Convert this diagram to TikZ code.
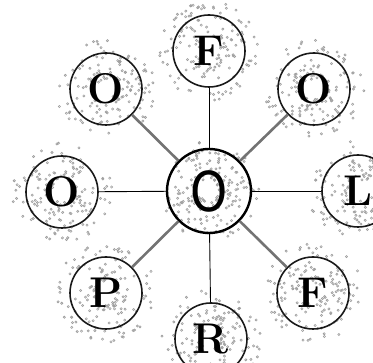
\documentclass[tikz,border=0pt]{standalone}
\usepackage{fontspec}
\newfontfamily\ringfont{DejaVu Sans}
\tikzset{
  leaf/.style={circle, draw=black!90, line width=1.6pt, minimum size=72pt, inner sep=0pt,
    font=\fontsize{43}{43}\selectfont\bfseries},
  hub/.style={circle, draw=black, line width=2.4pt, minimum size=84pt, inner sep=0pt},
  plain/.style={draw=black, line width=0.9pt},
  diag/.style={draw=black!55, line width=2.6pt},
  speckdot/.style={draw=black!38, line width=0.6pt}
}
\newcommand\mySpeck[4]{%
  \pgfmathsetseed{#3}%
  \begin{scope}[shift={(#1,#2)}]
    \foreach \i in {1,...,#4}{
      \pgfmathsetmacro\aa{rnd*360}
      \pgfmathsetmacro\rr{10+rnd*40}
      \draw[speckdot] (\aa:\rr) circle (1.1);
    }
  \end{scope}}
\begin{document}
\begin{tikzpicture}[x=1pt,y=1pt]
\useasboundingbox (0,0) rectangle (373,363);
% speckled halos
\mySpeck{209}{172}{11}{190}
\mySpeck{209}{312}{12}{150}
\mySpeck{106}{274}{13}{150}
\mySpeck{314}{274}{14}{150}
\mySpeck{62}{171}{15}{150}
\mySpeck{358}{172}{16}{150}
\mySpeck{106}{70}{17}{150}
\mySpeck{313}{70}{18}{150}
\mySpeck{211}{24}{19}{150}
% nodes
\node[hub] (c) at (209,172) {\ringfont\fontsize{55}{55}\selectfont\scalebox{0.86}[1]{O}};
\node[leaf] (ft) at (209,312) {F};
\node[leaf] (otl) at (106,274) {O};
\node[leaf] (otr) at (314,274) {O};
\node[leaf] (ol) at (62,171) {O};
\node[leaf] (lr) at (358,172) {L};
\node[leaf] (pbl) at (106,70) {P};
\node[leaf] (fbr) at (313,70) {F};
\node[leaf] (rb) at (211,24) {R};
% connectors
\draw[plain] (c) -- (ft);
\draw[plain] (c) -- (ol);
\draw[plain] (c) -- (lr);
\draw[plain] (c) -- (rb);
\draw[diag] (c) -- (otl);
\draw[diag] (c) -- (otr);
\draw[diag] (c) -- (pbl);
\draw[diag] (c) -- (fbr);
\end{tikzpicture}
\end{document}
